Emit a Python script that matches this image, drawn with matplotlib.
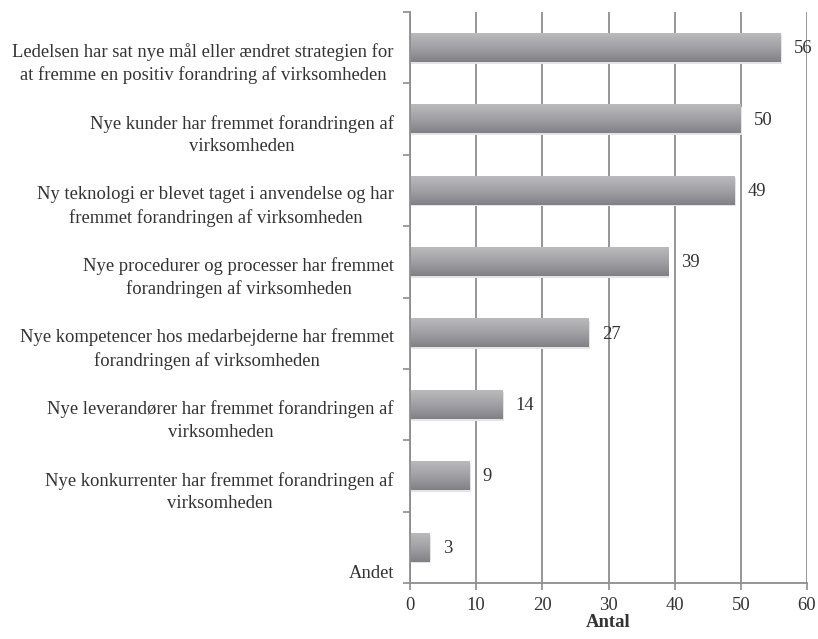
import numpy as np
import matplotlib
matplotlib.use("Agg")
import matplotlib.pyplot as plt
from matplotlib.colors import LinearSegmentedColormap

# Årsager til forandring og antal svar
categories = [
    "Ledelsen har sat nye mål eller ændret strategien for\nat fremme en positiv forandring af virksomheden",
    "Nye kunder har fremmet forandringen af\nvirksomheden",
    "Ny teknologi er blevet taget i anvendelse og har\nfremmet forandringen af virksomheden",
    "Nye procedurer og processer har fremmet\nforandringen af virksomheden",
    "Nye kompetencer hos medarbejderne har fremmet\nforandringen af virksomheden",
    "Nye leverandører har fremmet forandringen af\nvirksomheden",
    "Nye konkurrenter har fremmet forandringen af\nvirksomheden",
    "Andet",
]
values = [56, 50, 49, 39, 27, 14, 9, 3]
x_ticks = [0, 10, 20, 30, 40, 50, 60]
x_label = "Antal"

plt.rcParams['font.family'] = ['Liberation Serif', 'DejaVu Serif']
grid_col = "#8e8e8e"
txt_col = "#333333"
fs = 13.4

fig = plt.figure(figsize=(8.18, 6.39), dpi=100)
ax = fig.add_axes([410/818, 1 - 583/639, 397/818, 571/639])

y = np.arange(len(categories))
bar_h = 0.4
bars = ax.barh(y, values, height=bar_h, color="#a0a0a4", zorder=2)

# gradient fill + soft shadow for each bar
cmap = LinearSegmentedColormap.from_list("bar", ["#bababd", "#a1a1a5", "#808086"])
grad = np.linspace(0, 1, 64).reshape(-1, 1)
for b in bars:
    x0, w = b.get_x(), b.get_width()
    y0, h = b.get_y(), b.get_height()
    ax.add_patch(plt.Rectangle((x0, y0 + 0.025), w + 0.2, h, color="#e4e4e4",
                               zorder=1.5, lw=0))
    ax.imshow(grad, extent=[x0, x0 + w, y0 + h, y0], aspect='auto', cmap=cmap,
              origin='upper', zorder=2.5)
    b.set_visible(False)

ax.set_xlim(0, 60)
ax.set_ylim(len(categories) - 0.5, -0.5)

ax.set_xticks(x_ticks)
ax.grid(axis='x', color=grid_col, lw=1.3, zorder=0)
ax.set_axisbelow(True)

ax.set_yticks([])
ax.set_yticks(np.arange(-0.5, len(categories)), minor=True)
ax.tick_params(axis='y', which='minor', length=5, width=1.2, color=grid_col, direction='out')
ax.tick_params(axis='x', length=5, width=1.2, color=grid_col, direction='out',
               labelsize=fs, labelcolor=txt_col, pad=5)

for s in ['top', 'right']:
    ax.spines[s].set_visible(False)
for s in ['left', 'bottom']:
    ax.spines[s].set_color(grid_col)
    ax.spines[s].set_linewidth(1.3)

# kategori-tekster til venstre
for i, lab in enumerate(categories):
    off = -26 if lab == "Andet" else -16
    ax.annotate(lab, xy=(0, i), xycoords=('axes fraction', 'data'),
                xytext=(-16, off), textcoords='offset pixels',
                ha='right', va='center', multialignment='center',
                fontsize=fs, color=txt_col, linespacing=1.4)

# værdier ved enden af søjlerne
for i, v in enumerate(values):
    ax.annotate(str(v), xy=(v, i), xytext=(13, -1), textcoords='offset pixels',
                ha='left', va='center', fontsize=fs, color=txt_col)

ax.set_xlabel(x_label, fontsize=fs, fontweight='bold', color=txt_col, labelpad=0)

fig.savefig("out.png", dpi=100)
